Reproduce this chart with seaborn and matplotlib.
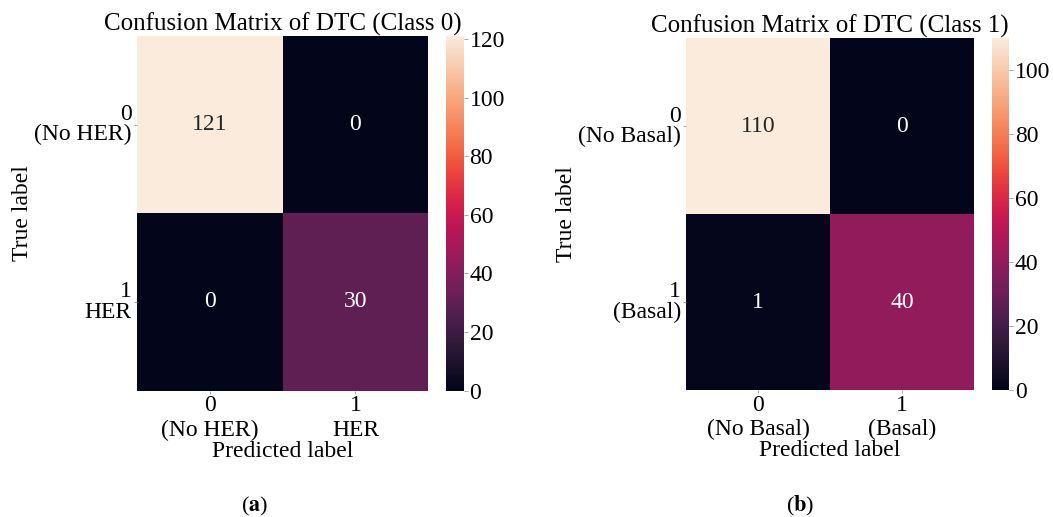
import matplotlib
matplotlib.use('Agg')
import matplotlib.pyplot as plt
import seaborn as sns
import numpy as np

# data
cm_her = [[121, 0], [0, 30]]
cm_basal = [[110, 0], [1, 40]]
labels_her_x = ['0\n(No HER)', '1\nHER']
labels_her_y = ['0\n(No HER)', '1\nHER']
labels_basal_x = ['0\n(No Basal)', '1\n(Basal)']
labels_basal_y = ['0\n(No Basal)', '1\n(Basal)']
titles = ['Confusion Matrix of DTC (Class 0)', 'Confusion Matrix of DTC (Class 1)']
captions = [r'($\mathbf{a}$)', r'($\mathbf{b}$)']

plt.rcParams['font.family'] = ['Liberation Serif', 'DejaVu Serif']
plt.rcParams['mathtext.fontset'] = 'stix'
fs = 17

fig = plt.figure(figsize=(10.53, 5.17), dpi=100)

ax_pos = [[0.1298, 0.2446, 0.2770, 0.6857], [0.6515, 0.2456, 0.2735, 0.6800]]
cb_pos = [[0.4240, 0.2446, 0.0167, 0.6857], [0.9418, 0.2456, 0.0167, 0.6800]]
data = [cm_her, cm_basal]
xl = [labels_her_x, labels_basal_x]
yl = [labels_her_y, labels_basal_y]
cap_x = [0.242, 0.760]

for i in range(2):
    ax = fig.add_axes(ax_pos[i])
    cax = fig.add_axes(cb_pos[i])
    sns.heatmap(np.array(data[i]), annot=True, fmt='d', cmap='rocket', ax=ax, cbar_ax=cax,
                annot_kws={'size': fs}, xticklabels=xl[i], yticklabels=yl[i])
    ax.set_title(titles[i], fontsize=18, pad=3)
    ax.set_xlabel('Predicted label', fontsize=fs, labelpad=0)
    ax.set_ylabel('True label', fontsize=fs, labelpad=1)
    ax.tick_params(axis='both', labelsize=fs, length=2, width=0.6, color='#999999', pad=1.5)
    ax.set_yticklabels(yl[i], rotation=0, ha='right', fontsize=fs, linespacing=0.95)
    ax.set_xticklabels(xl[i], rotation=0, ha='center', fontsize=fs)
    cax.tick_params(labelsize=fs, length=3, width=0.6, color='#999999', pad=1)
    fig.text(cap_x[i], 0.021, captions[i], fontsize=16, ha='center', va='center')

fig.savefig('out.png', dpi=100)
